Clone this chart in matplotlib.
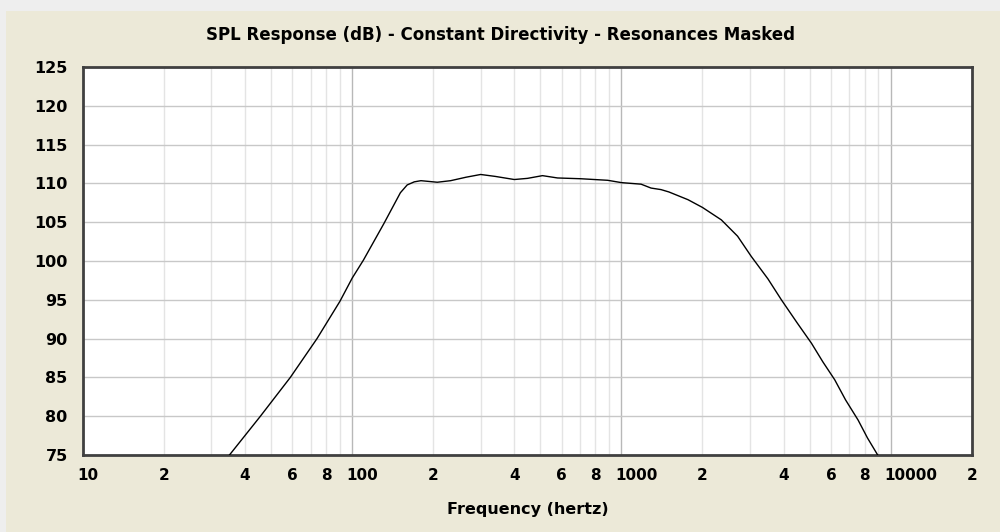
import matplotlib
matplotlib.use("Agg")
import matplotlib.pyplot as plt
import matplotlib.transforms as mtransforms
from matplotlib.patches import Rectangle

# SPL curve (Hz, dB)
freq = [35, 45.6, 58.9, 74, 90, 100, 110, 131, 151, 160, 170, 180, 207, 232,
        265, 300, 340, 400, 448, 509, 579, 707, 889, 1000, 1183, 1288, 1403,
        1500, 1767, 2000, 2350, 2700, 3034, 3500, 3927, 4500, 5080, 5600,
        6196, 6800, 7570, 8200, 8950]
spl = [75.0, 80.0, 85.0, 90.0, 94.8, 97.8, 100.1, 104.8, 108.8, 109.8, 110.2,
       110.35, 110.15, 110.35, 110.8, 111.15, 110.9, 110.5, 110.65, 111.0,
       110.7, 110.6, 110.4, 110.1, 109.9, 109.4, 109.2, 108.9, 107.9, 106.9,
       105.3, 103.2, 100.6, 97.7, 95.0, 92.0, 89.4, 87.0, 84.7, 82.1, 79.5,
       77.2, 75.0]

x_ticks = [10, 20, 40, 60, 80, 100, 200, 400, 600, 800, 1000, 2000, 4000,
           6000, 8000, 10000, 20000]
x_labels = ["10", "2", "4", "6", "8", "100", "2", "4", "6", "8", "1000", "2",
            "4", "6", "8", "10000", "2"]
y_ticks = [75, 80, 85, 90, 95, 100, 105, 110, 115, 120, 125]

title = "SPL Response (dB) - Constant Directivity - Resonances Masked"
x_title = "Frequency (hertz)"

panel = "#ECE9D8"

fig = plt.figure(figsize=(10, 5.32), dpi=100, facecolor="#EEEEEE")
bg = Rectangle((0.006, 0), 0.994, 1 - 11 / 532, transform=fig.transFigure,
               facecolor=panel, edgecolor="none", zorder=-10)
fig.add_artist(bg)

ax = fig.add_axes([0.083, 1 - 455 / 532, 0.8887, 388 / 532])
ax.set_facecolor("white")
ax.set_xscale("log")
ax.set_xlim(10, 20000)
ax.set_ylim(75, 125)

# grid: minor decades light, decade lines darker
minor = [m * 10 ** d for d in range(1, 5) for m in range(2, 10)]
for f in minor:
    if 10 < f < 20000:
        ax.axvline(f, color="#E4E4E4", lw=1, zorder=1)
for f in [100, 1000, 10000]:
    ax.axvline(f, color="#B8B8B8", lw=1, zorder=1)
for y in y_ticks[1:-1]:
    ax.axhline(y, color="#C8C8C8", lw=1, zorder=1)

ax.plot(freq, spl, color="black", lw=1.0, zorder=3)

for s in ax.spines.values():
    s.set_color("#404040")
    s.set_linewidth(2)

ax.minorticks_off()
ax.tick_params(length=0)
ax.tick_params(axis="x", pad=9)
ax.tick_params(axis="y", pad=11)
ax.set_xticks(x_ticks)
ax.set_xticklabels(x_labels, fontsize=11, fontweight="bold")
ax.set_yticks(y_ticks)
ax.set_yticklabels([str(v) for v in y_ticks], fontsize=11.5, fontweight="bold")

# multi-digit decade labels start just left of their grid line
shift = mtransforms.ScaledTranslation(-6 / 100, 0, fig.dpi_scale_trans)
for lab in ax.get_xticklabels():
    if len(lab.get_text()) > 1:
        lab.set_horizontalalignment("left")
        lab.set_transform(lab.get_transform() + shift)

fig.text(0.5, 1 - 35 / 532, title, ha="center", va="center",
         fontsize=12, fontweight="bold")
ax.set_xlabel(x_title, fontsize=11.5, fontweight="bold", labelpad=14)

fig.savefig("out.png", dpi=100, facecolor=fig.get_facecolor())
